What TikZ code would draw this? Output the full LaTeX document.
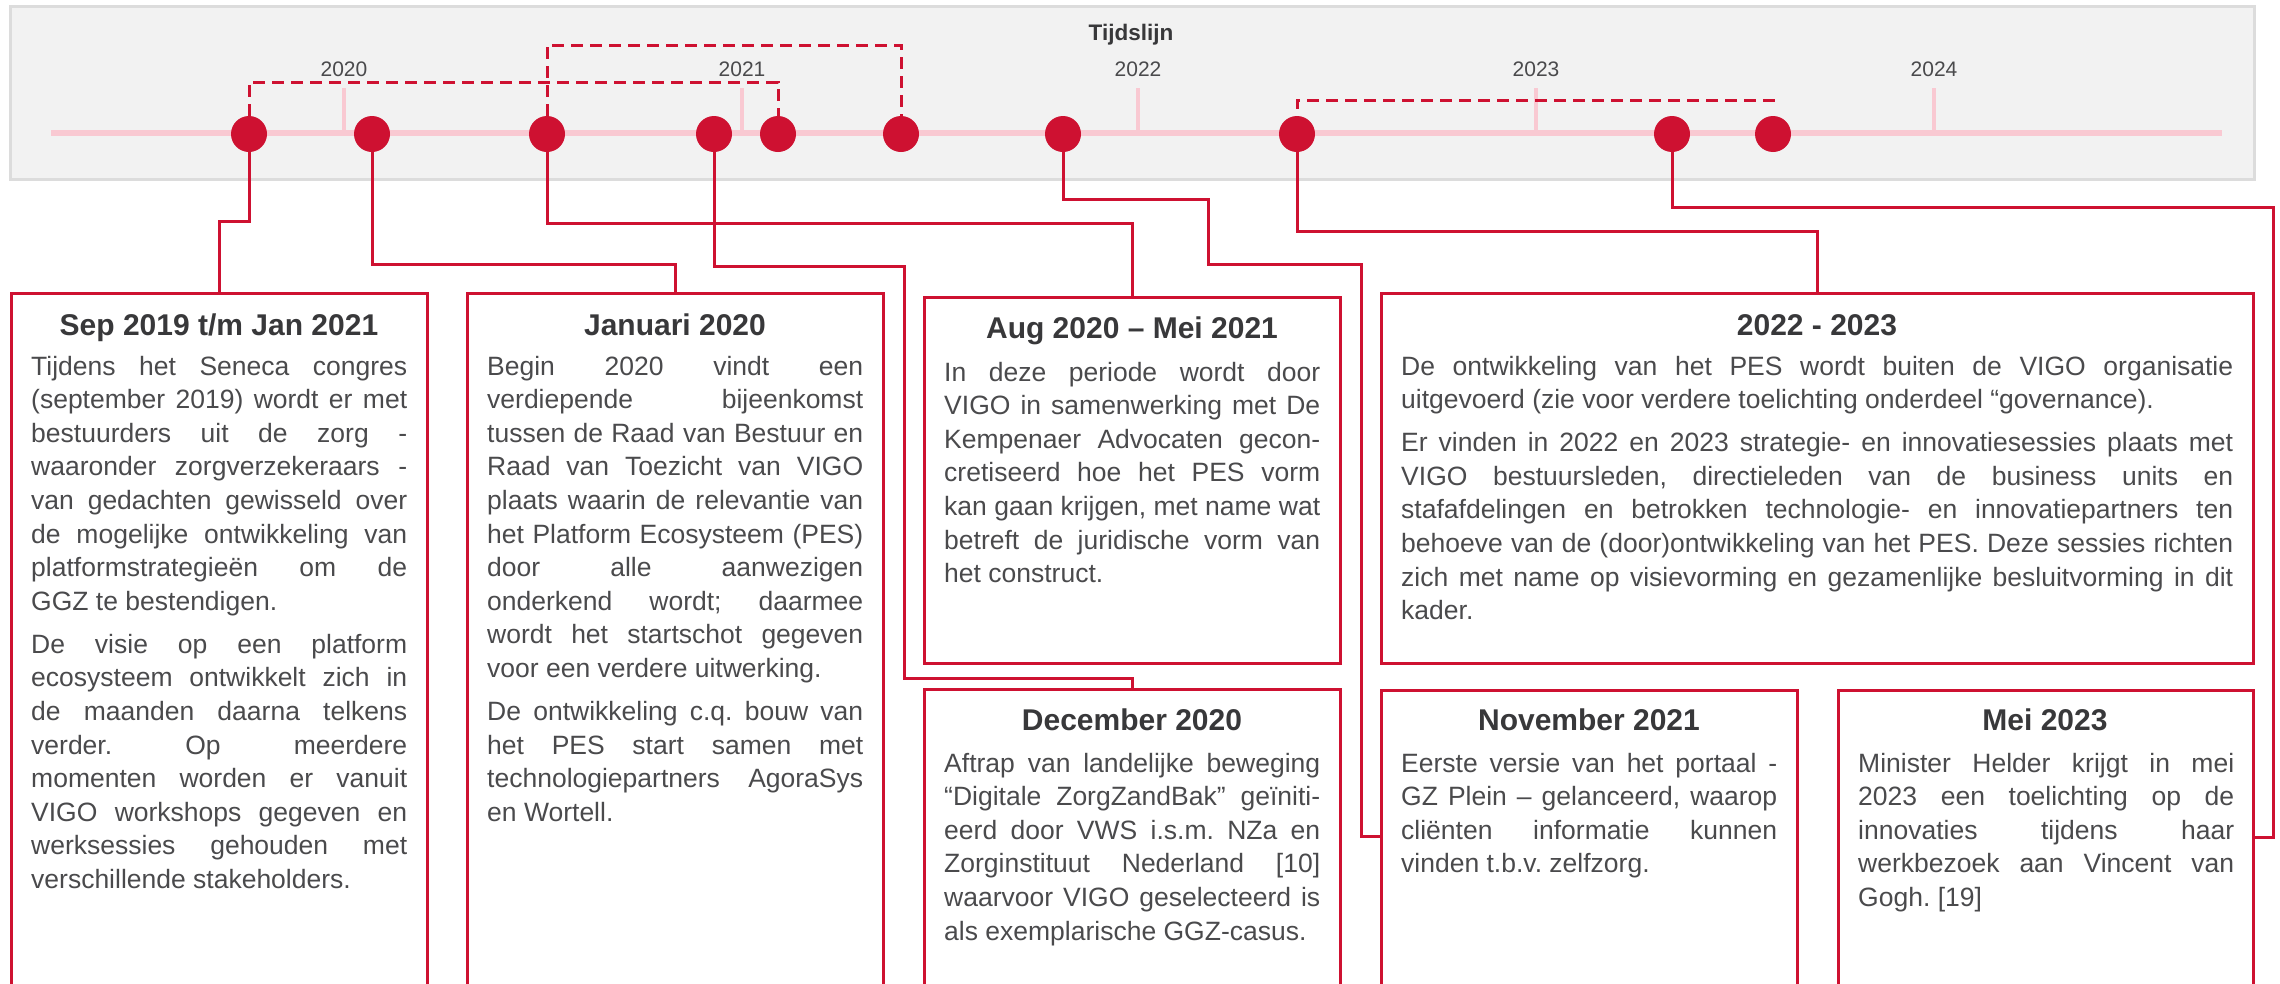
\documentclass[tikz,border=0pt]{standalone}
\usepackage{fontspec}
\setmainfont{Liberation Sans}
\definecolor{vred}{HTML}{CE1131}
\definecolor{vpink}{HTML}{F9C9D2}
\definecolor{panelbg}{HTML}{F2F2F2}
\definecolor{panelline}{HTML}{DCDCDC}
\definecolor{txtdark}{HTML}{38383A}
\definecolor{txtbody}{HTML}{4A4A4C}
\newcommand\jline[1]{\makebox[\linewidth][s]{#1}\par}
\newcommand\eline[1]{#1\par}
\newcommand\pgap{\vspace{9.4pt}}
\newcommand\bodyfnt{\fontsize{26.5pt}{33.6pt}\selectfont}
\frenchspacing
\begin{document}
\begin{tikzpicture}[x=1pt,y=-1pt,
  panel/.style={fill=panelbg,draw=panelline,line width=3pt},
  axis/.style={vpink,line width=6pt},
  yeartick/.style={vpink,line width=4pt},
  year/.style={anchor=base,text=txtbody,font=\fontsize{21pt}{24pt}\selectfont,inner sep=0},
  dot/.style={circle,fill=vred,minimum size=36pt,inner sep=0},
  brk/.style={vred,line width=3pt,dash pattern=on 12pt off 7pt},
  conn/.style={vred,line width=3pt},
  box/.style={draw=vred,line width=3pt,anchor=north west,inner sep=0,outer sep=0},
  ttl/.style={anchor=base,text=txtdark,font=\fontsize{30pt}{36pt}\selectfont\bfseries,inner sep=0},
  body/.style={anchor=base west,text=txtbody,font=\bodyfnt,inner sep=0}]
\useasboundingbox (0,0) rectangle (2280,983);
\clip (0,0) rectangle (2280,983);

% timeline panel
\filldraw[panel] (10,6) rectangle (2254,179);
\draw[axis] (51,133) -- (2222,133);
\foreach \x in {344,742,1138,1536,1934} \draw[yeartick] (\x,88) -- (\x,133);
\node[year] (y2020) at (344,76) {2020};
\node[year] (y2021) at (742,76) {2021};
\node[year] (y2022) at (1138,76) {2022};
\node[year] (y2023) at (1536,76) {2023};
\node[year] (y2024) at (1934,76) {2024};
\node[anchor=base,text=txtdark,font=\fontsize{22.5pt}{26pt}\selectfont\bfseries,inner sep=0] (tl) at (1131,40) {Tijdslijn};

% dots
\node[dot] (d1) at (249,134) {};
\node[dot] (d2) at (372,134) {};
\node[dot] (d3) at (547,134) {};
\node[dot] (d4) at (714,134) {};
\node[dot] (d5) at (778,134) {};
\node[dot] (d6) at (901,134) {};
\node[dot] (d7) at (1063,134) {};
\node[dot] (d8) at (1297,134) {};
\node[dot] (d9) at (1672,134) {};
\node[dot] (d10) at (1773,134) {};

% boxes
\node[box,minimum width=416pt,minimum height=740pt] (b1) at (11,293) {};
\node[box,minimum width=416pt,minimum height=740pt] (b2) at (467,293) {};
\node[box,minimum width=416pt,minimum height=366pt] (b3) at (924,297) {};
\node[box,minimum width=872pt,minimum height=370pt] (b4) at (1381,293) {};
\node[box,minimum width=416pt,minimum height=340pt] (b5) at (924,689) {};
\node[box,minimum width=416pt,minimum height=340pt] (b6) at (1381,690) {};
\node[box,minimum width=415pt,minimum height=340pt] (b7) at (1838,690) {};

% dashed brackets
\draw[brk] (d1.north) |- (d5.north |- 0,82) -- (d5.north);
\draw[brk] (d3.north) |- (d6.north |- 0,45) -- (d6.north);
\draw[brk] ([yshift=7pt]d8.north) |- (d10.north |- 0,100) -- ([yshift=7pt]d10.north);

% connectors
\draw[conn] (d1.south) |- (219,221) -- (b1.north);
\draw[conn] (d2.south) |- (675,264) -- (b2.north);
\draw[conn] (d3.south) |- (1132,223) -- (b3.north);
\draw[conn] (d4.south) |- (904,266) |- (1132,678) -- (b5.north);
\draw[conn] (d7.south) |- (1208,199) |- (1361,264) |- ([yshift=-146pt]b6.north west);
\draw[conn] (d8.south) |- (1817,231) -- (b4.north);
\draw[conn] (d9.south) |- (2273,207) |- ([yshift=-147pt]b7.north east);

% box 1
\node[ttl] (t1) at (219,335) {Sep 2019 t/m Jan 2021};
\node[body] (p1) at (31,375) {\parbox[t]{376pt}{\bodyfnt
\jline{Tijdens het Seneca congres}
\jline{(september 2019) wordt er met}
\jline{bestuurders uit de zorg -}
\jline{waaronder zorgverzekeraars -}
\jline{van gedachten gewisseld over}
\jline{de mogelijke ontwikkeling van}
\jline{platformstrategieën om de}
\eline{GGZ te bestendigen.}
\pgap
\jline{De visie op een platform}
\jline{ecosysteem ontwikkelt zich in}
\jline{de maanden daarna telkens}
\jline{verder. Op meerdere}
\jline{momenten worden er vanuit}
\jline{VIGO workshops gegeven en}
\jline{werksessies gehouden met}
\eline{verschillende stakeholders.}}};

% box 2
\node[ttl] (t2) at (675,335) {Januari 2020};
\node[body] (p2) at (487,375) {\parbox[t]{376pt}{\bodyfnt
\jline{Begin 2020 vindt een}
\jline{verdiepende bijeenkomst}
\jline{tussen de Raad van Bestuur en}
\jline{Raad van Toezicht van VIGO}
\jline{plaats waarin de relevantie van}
\jline{het Platform Ecosysteem (PES)}
\jline{door alle aanwezigen}
\jline{onderkend wordt; daarmee}
\jline{wordt het startschot gegeven}
\eline{voor een verdere uitwerking.}
\pgap
\jline{De ontwikkeling c.q. bouw van}
\jline{het PES start samen met}
\jline{technologiepartners AgoraSys}
\eline{en Wortell.}}};

% box 3
\node[ttl] (t3) at (1132,338) {Aug 2020 – Mei 2021};
\node[body] (p3) at (944,381) {\parbox[t]{376pt}{\bodyfnt
\jline{In deze periode wordt door}
\jline{VIGO in samenwerking met De}
\jline{Kempenaer Advocaten gecon-}
\jline{cretiseerd hoe het PES vorm}
\jline{kan gaan krijgen, met name wat}
\jline{betreft de juridische vorm van}
\eline{het construct.}}};

% box 4
\node[ttl] (t4) at (1817,335) {2022 - 2023};
\node[body] (p4) at (1401,375) {\parbox[t]{832pt}{\bodyfnt
\jline{De ontwikkeling van het PES wordt buiten de VIGO organisatie}
\eline{uitgevoerd (zie voor verdere toelichting onderdeel “governance).}
\pgap
\jline{Er vinden in 2022 en 2023 strategie- en innovatiesessies plaats met}
\jline{VIGO bestuursleden, directieleden van de business units en}
\jline{stafafdelingen en betrokken technologie- en innovatiepartners ten}
\jline{behoeve van de (door)ontwikkeling van het PES. Deze sessies richten}
\jline{zich met name op visievorming en gezamenlijke besluitvorming in dit}
\eline{kader.}}};

% box 5
\node[ttl] (t5) at (1132,730) {December 2020};
\node[body] (p5) at (944,772) {\parbox[t]{376pt}{\bodyfnt
\jline{Aftrap van landelijke beweging}
\jline{“Digitale ZorgZandBak” geïniti-}
\jline{eerd door VWS i.s.m. NZa en}
\jline{Zorginstituut Nederland [10]}
\jline{waarvoor VIGO geselecteerd is}
\eline{als exemplarische GGZ-casus.}}};

% box 6
\node[ttl] (t6) at (1589,730) {November 2021};
\node[body] (p6) at (1401,772) {\parbox[t]{376pt}{\bodyfnt
\jline{Eerste versie van het portaal -}
\jline{GZ Plein – gelanceerd, waarop}
\jline{cliënten informatie kunnen}
\eline{vinden t.b.v. zelfzorg.}}};

% box 7
\node[ttl] (t7) at (2045,730) {Mei 2023};
\node[body] (p7) at (1858,772) {\parbox[t]{376pt}{\bodyfnt
\jline{Minister Helder krijgt in mei}
\jline{2023 een toelichting op de}
\jline{innovaties tijdens haar}
\jline{werkbezoek aan Vincent van}
\eline{Gogh. [19]}}};
\end{tikzpicture}
\end{document}
